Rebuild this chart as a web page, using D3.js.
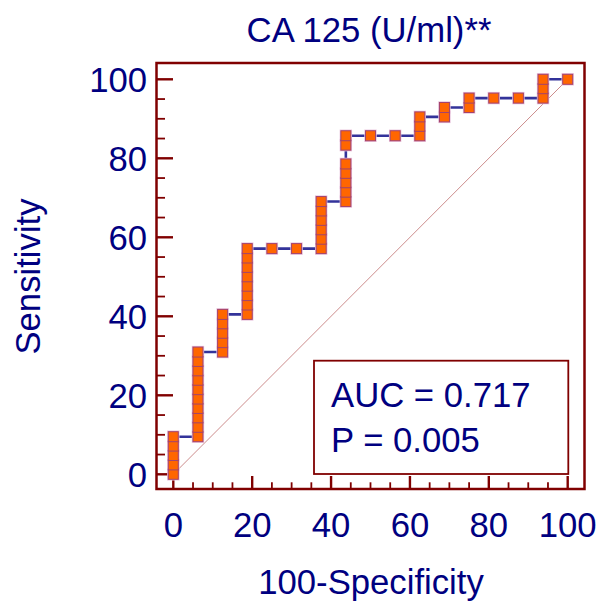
<!DOCTYPE html>
<html>
<head>
<meta charset="utf-8">
<script src="https://cdn.jsdelivr.net/npm/d3@7"></script>
<style>
  html, body { margin: 0; padding: 0; background: #fff; }
  svg text { font-family: "Liberation Sans", Arial, sans-serif; fill: #000080; }
</style>
</head>
<body>
<svg id="chart" width="598" height="601"></svg>
<script>
// ROC coordinates (100-Specificity, Sensitivity)
const specPts = [0,0,0,0,0,
  6.25,6.25,6.25,6.25,6.25,6.25,6.25,6.25,6.25,6.25,
  12.5,12.5,12.5,12.5,12.5,
  18.75,18.75,18.75,18.75,18.75,18.75,18.75,18.75,
  25,31.25,
  37.5,37.5,37.5,37.5,37.5,37.5,
  43.75,43.75,43.75,43.75,43.75,43.75,43.75,
  50,56.25,
  62.5,62.5,62.5,
  68.75,68.75,
  75,75,
  81.25,87.5,
  93.75,93.75,93.75,
  100];
const sensPts = [0,2.38,4.76,7.14,9.52,
  9.52,11.90,14.29,16.67,19.05,21.43,23.81,26.19,28.57,30.95,
  30.95,33.33,35.71,38.10,40.48,
  40.48,42.86,45.24,47.62,50.00,52.38,54.76,57.14,
  57.14,57.14,
  57.14,59.52,61.90,64.29,66.67,69.05,
  69.05,71.43,73.81,76.19,78.57,83.33,85.71,
  85.71,85.71,
  85.71,88.10,90.48,
  90.48,92.86,
  92.86,95.24,
  95.24,95.24,
  95.24,97.62,100,
  100];
const tickValues = [0, 20, 40, 60, 80, 100];
const minorTicks = [0,5,10,15,20,25,30,35,40,45,50,55,60,65,70,75,80,85,90,95,100];
const titleText = "CA 125 (U/ml)**";
const xLabel = "100-Specificity";
const yLabel = "Sensitivity";
const statLines = ["AUC = 0.717", "P = 0.005"];

const svg = d3.select("#chart");
const frame = {l: 156.5, r: 584.5, t: 63, b: 489};
const x = d3.scaleLinear().domain([0, 100]).range([173.3, 567.7]);
const y = d3.scaleLinear().domain([0, 100]).range([474.3, 79.3]);
const dark = "#800000";
const fs = 34.7;

// frame
svg.append("rect")
  .attr("x", frame.l).attr("y", frame.t)
  .attr("width", frame.r - frame.l).attr("height", frame.b - frame.t)
  .attr("fill", "none").attr("stroke", dark).attr("stroke-width", 2.5);

// y ticks (inward from left)
const gy = svg.append("g");
gy.selectAll("line").data(minorTicks).join("line")
  .attr("x1", frame.l).attr("x2", d => frame.l + (d % 20 === 0 ? 16.5 : 8.5))
  .attr("y1", d => y(d)).attr("y2", d => y(d))
  .attr("stroke", dark).attr("stroke-width", d => d % 20 === 0 ? 2.4 : 1.8);
gy.selectAll("text").data(tickValues).join("text")
  .attr("x", 147).attr("y", d => y(d) + 12.5)
  .attr("text-anchor", "end").attr("font-size", fs)
  .text(d => d);

// x ticks (inward from bottom)
const gx = svg.append("g");
gx.selectAll("line").data(minorTicks).join("line")
  .attr("y1", frame.b).attr("y2", d => frame.b - (d % 20 === 0 ? 13 : 6.7))
  .attr("x1", d => x(d)).attr("x2", d => x(d))
  .attr("stroke", dark).attr("stroke-width", d => d % 20 === 0 ? 2.4 : 1.8);
gx.selectAll("text").data(tickValues).join("text")
  .attr("x", d => x(d)).attr("y", 537)
  .attr("text-anchor", "middle").attr("font-size", fs)
  .text(d => d);

// diagonal reference line
svg.append("line")
  .attr("x1", x(0)).attr("y1", y(0)).attr("x2", x(100)).attr("y2", y(100))
  .attr("stroke", "#cc8c8c").attr("stroke-width", 1);

// ROC step line
const pts = specPts.map((s, i) => [s, sensPts[i]]);
svg.append("path")
  .datum(pts)
  .attr("d", d3.line().x(d => x(d[0])).y(d => y(d[1])))
  .attr("fill", "none").attr("stroke", "#33339a").attr("stroke-width", 2.6);

// markers
const ms = 10;
const gm = svg.append("g");
gm.selectAll("rect.halo").data(pts).join("rect").attr("class", "halo")
  .attr("x", d => x(d[0]) - ms / 2 - 1.2).attr("y", d => y(d[1]) - ms / 2 - 1.2)
  .attr("width", ms + 2.4).attr("height", ms + 2.4)
  .attr("fill", "#e9c3dc");
gm.selectAll("rect.mk").data(pts).join("rect").attr("class", "mk")
  .attr("x", d => x(d[0]) - ms / 2).attr("y", d => y(d[1]) - ms / 2)
  .attr("width", ms).attr("height", ms)
  .attr("fill", "#ff6600").attr("stroke", "#a3436e").attr("stroke-width", 1);

// stats box
svg.append("rect")
  .attr("x", 314).attr("y", 360.7).attr("width", 254.3).attr("height", 113.3)
  .attr("fill", "#fff").attr("stroke", dark).attr("stroke-width", 1.8);
svg.selectAll("text.stat").data(statLines).join("text").attr("class", "stat")
  .attr("x", 331).attr("y", (d, i) => 407.3 + i * 44.4)
  .attr("font-size", fs).text(d => d);

// titles
svg.append("text").attr("x", 369).attr("y", 42)
  .attr("text-anchor", "middle").attr("font-size", fs).text(titleText);
svg.append("text").attr("x", 371).attr("y", 594)
  .attr("text-anchor", "middle").attr("font-size", fs).text(xLabel);
svg.append("text").attr("transform", "translate(39.5,276.5) rotate(-90)")
  .attr("text-anchor", "middle").attr("font-size", fs).text(yLabel);
</script>
</body>
</html>
